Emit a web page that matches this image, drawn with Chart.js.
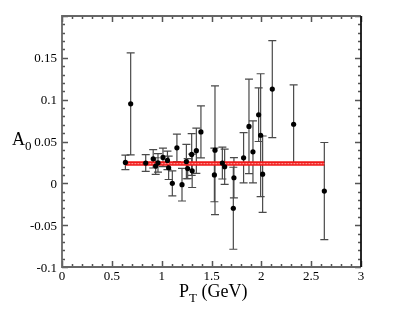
<!DOCTYPE html>
<html>
<head>
<meta charset="utf-8">
<script src="https://cdn.jsdelivr.net/npm/chart.js@4/dist/chart.umd.min.js"></script>
<style>
  body { margin: 0; background: #fff; }
  #wrap { position: relative; width: 407px; height: 315px; }
  .axt { position: absolute; font-family: "Liberation Serif", "Times New Roman", serif; font-size: 18px; line-height: 18px; color: #000; white-space: nowrap; }
  .axt sub { font-size: 13px; vertical-align: -5px; line-height: 0; }
  .tk { position: absolute; font-family: "Liberation Serif", "Times New Roman", serif; font-size: 13px; line-height: 13px; color: #000; white-space: nowrap; }
</style>
</head>
<body>
<div id="wrap">
  <canvas id="plot" width="407" height="315"></canvas>
  <div class="axt" style="left:12px; top:130px;">A<sub>0</sub></div>
  <div class="axt" style="left:179px; top:282px;">P<sub>T</sub> (GeV)</div>
</div>
<script>
// measured points: pT, A0 and symmetric error
const ptX = [0.636, 0.689, 0.840, 0.915, 0.940, 0.963, 1.013, 1.058, 1.070, 1.107, 1.153,
             1.204, 1.248, 1.261, 1.301, 1.306, 1.348, 1.394, 1.529, 1.535, 1.609, 1.632,
             1.719, 1.725, 1.822, 1.876, 1.916, 1.973, 1.993, 2.013, 2.110, 2.324, 2.632];
const a0Y = [0.025, 0.095, 0.0242, 0.0293, 0.0206, 0.0245, 0.031, 0.0274, 0.0186, 0.0, 0.0424,
             -0.0016, 0.026, 0.0176, 0.0345, 0.015, 0.039, 0.0615, 0.010, 0.0396, 0.0242, 0.0198,
             -0.0298, 0.0067, 0.0305, 0.068, 0.0376, 0.082, 0.0575, 0.011, 0.1126, 0.0706, -0.0092];
const a0Err = [0.0087, 0.061, 0.010, 0.011, 0.010, 0.011, 0.011, 0.011, 0.014, 0.015, 0.0165,
               0.0195, 0.0205, 0.012, 0.025, 0.020, 0.027, 0.031, 0.032, 0.077, 0.019, 0.021,
               0.049, 0.024, 0.030, 0.0565, 0.037, 0.032, 0.0735, 0.0456, 0.058, 0.047, 0.058];

// constant fit
const fitValue = 0.0236;
const fitRange = [0.636, 2.632];

// tick labels
const xTickLabels = [0, 0.5, 1, 1.5, 2, 2.5, 3];
const yTickLabels = [-0.1, -0.05, 0, 0.05, 0.1, 0.15];

const points = ptX.map((x, i) => ({ x: x, y: a0Y[i] }));
const band = fitRange.map(x => ({ x: x, y: fitValue }));

function fmt(v) {
    return String(Math.round(v * 100) / 100);
}

const framePlugin = {
    id: 'frame',
    beforeDatasetsDraw(chart) {
        const ctx = chart.ctx;
        const xs = chart.scales.x, ys = chart.scales.y;
        ctx.save();
        ctx.strokeStyle = '#4a4a4a';
        ctx.lineWidth = 1.2;
        for (let i = 0; i < ptX.length; ++i) {
            const px = xs.getPixelForValue(ptX[i]);
            const top = ys.getPixelForValue(a0Y[i] + a0Err[i]);
            const bot = ys.getPixelForValue(a0Y[i] - a0Err[i]);
            ctx.beginPath();
            ctx.moveTo(px, top); ctx.lineTo(px, bot);
            ctx.moveTo(px - 4, top); ctx.lineTo(px + 4, top);
            ctx.moveTo(px - 4, bot); ctx.lineTo(px + 4, bot);
            ctx.stroke();
        }
        ctx.restore();
    },
    afterDraw(chart) {
        const ctx = chart.ctx;
        const a = chart.chartArea;
        const xs = chart.scales.x, ys = chart.scales.y;
        ctx.save();
        ctx.strokeStyle = '#555';
        ctx.lineWidth = 1.5;
        ctx.beginPath();
        // minor + major ticks on x, every 0.1
        for (let k = 0; k <= 30; ++k) {
            const px = Math.round(xs.getPixelForValue(k / 10)) + 0.5;
            const len = (k % 5 === 0) ? 6 : 3;
            ctx.moveTo(px, a.bottom); ctx.lineTo(px, a.bottom - len);
            ctx.moveTo(px, a.top); ctx.lineTo(px, a.top + len);
        }
        // ticks on y, every 0.01
        for (let k = -10; k <= 20; ++k) {
            const py = Math.round(ys.getPixelForValue(k / 100)) + 0.5;
            const len = (k % 5 === 0) ? 6 : 3;
            ctx.moveTo(a.left, py); ctx.lineTo(a.left + len, py);
            ctx.moveTo(a.right, py); ctx.lineTo(a.right - len, py);
        }
        ctx.stroke();
        ctx.lineWidth = 1.8;
        ctx.strokeStyle = '#666';
        ctx.beginPath();
        ctx.moveTo(a.right, a.top); ctx.lineTo(a.left, a.top);
        ctx.lineTo(a.left, a.bottom); ctx.lineTo(a.right, a.bottom);
        ctx.stroke();
        ctx.strokeStyle = '#111';
        ctx.beginPath();
        ctx.moveTo(a.right, a.top); ctx.lineTo(a.right, a.bottom);
        ctx.stroke();
        ctx.restore();
    }
};

// tick labels as page text, placed from the chart's scales
function placeTickLabels(chart) {
    const wrap = document.getElementById('wrap');
    const a = chart.chartArea;
    const xs = chart.scales.x, ys = chart.scales.y;
    xTickLabels.forEach(v => {
        const d = document.createElement('div');
        d.className = 'tk';
        d.textContent = fmt(v);
        d.style.left = xs.getPixelForValue(v) + 'px';
        d.style.top = (a.bottom + 1.5) + 'px';
        d.style.transform = 'translateX(-50%)';
        wrap.appendChild(d);
    });
    yTickLabels.forEach(v => {
        const d = document.createElement('div');
        d.className = 'tk';
        d.textContent = fmt(v);
        d.style.right = (407 - a.left + 5) + 'px';
        d.style.top = (ys.getPixelForValue(v) - 6.5) + 'px';
        wrap.appendChild(d);
    });
}

window.addEventListener("load", function () {
    const ctx = document.getElementById('plot').getContext('2d');
    const chart = new Chart(ctx, {
        type: 'scatter',
        data: {
            datasets: [{
                type: 'scatter',
                label: 'A0',
                data: points,
                pointRadius: 2.6,
                pointBackgroundColor: '#000',
                pointBorderWidth: 0,
                order: 0
            }, {
                type: 'line',
                label: 'fit',
                data: band,
                borderColor: '#f01818',
                borderWidth: 4.5,
                pointRadius: 0,
                order: 2
            }, {
                type: 'line',
                label: 'fit centre',
                data: band,
                borderColor: 'rgba(255,160,160,0.9)',
                borderWidth: 1.2,
                borderDash: [2, 1],
                pointRadius: 0,
                order: 1
            }]
        },
        options: {
            responsive: false,
            animation: false,
            layout: { padding: { left: 62, right: 46, top: 16, bottom: 48 } },
            plugins: { legend: { display: false }, tooltip: { enabled: false } },
            scales: {
                x: { type: 'linear', min: 0, max: 3, display: false },
                y: { type: 'linear', min: -0.1, max: 0.2, display: false }
            }
        },
        plugins: [framePlugin]
    });
    placeTickLabels(chart);
});
</script>
</body>
</html>
